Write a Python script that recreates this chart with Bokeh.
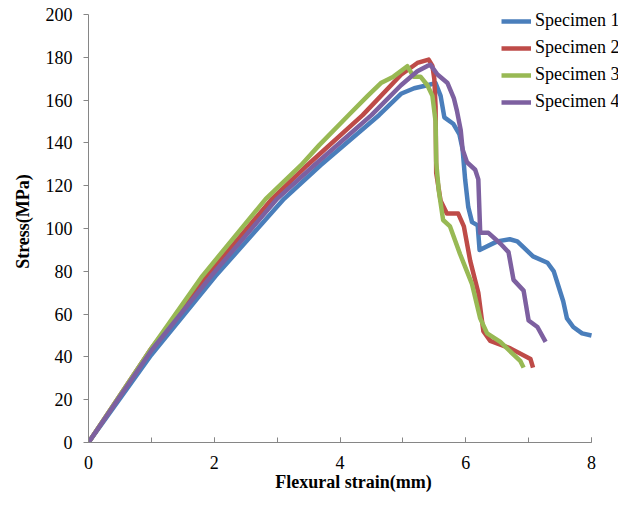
from bokeh.plotting import figure
from bokeh.models import Range1d, SingleIntervalTicker
from bokeh.embed import file_html
from bokeh.resources import INLINE

# Specimen data (strain mm, stress MPa)
x1 = [0, 1.0, 2.02, 3.11, 3.69, 4.62, 4.97, 5.18, 5.39, 5.52, 5.6, 5.66, 5.8, 5.9, 5.95, 5.99, 6.04, 6.1, 6.19, 6.22, 6.5, 6.7, 6.82, 7.07, 7.3, 7.4, 7.55, 7.61, 7.71, 7.85, 8.0]
y1 = [0, 41, 77.8, 113.9, 129.6, 153, 163, 165.6, 167, 168, 162, 152, 149, 144, 137, 123, 110, 103, 101.5, 90, 94, 95, 94, 87, 84, 80, 66, 58, 54, 51, 50]

x2 = [0, 1.0, 1.88, 2.92, 3.48, 4.36, 4.97, 5.23, 5.41, 5.47, 5.5, 5.52, 5.53, 5.6, 5.7, 5.88, 5.97, 6.07, 6.2, 6.28, 6.39, 6.71, 7.03, 7.07]
y2 = [0, 44, 77.8, 113.9, 129.6, 153, 171.9, 177.4, 179, 176, 170, 157, 126, 113, 107, 107, 101, 85, 70, 52, 47.5, 44, 39, 35]

x3 = [0, 1.0, 1.81, 2.82, 3.38, 3.67, 4.17, 4.44, 4.65, 4.85, 5.07, 5.17, 5.28, 5.39, 5.47, 5.52, 5.53, 5.57, 5.64, 5.75, 5.91, 6.1, 6.23, 6.34, 6.55, 6.87, 6.92]
y3 = [0, 44, 77.8, 113.9, 129.6, 139, 154, 162, 168, 171, 175.9, 171, 171, 167, 162, 150, 131, 118, 104, 101, 88, 74, 58, 51, 47, 38, 35]

x4 = [0, 1.0, 1.95, 3.0, 3.59, 4.5, 4.97, 5.23, 5.39, 5.44, 5.55, 5.71, 5.81, 5.86, 5.92, 5.95, 6.02, 6.15, 6.2, 6.23, 6.36, 6.55, 6.68, 6.76, 6.92, 7.0, 7.14, 7.27]
y4 = [0, 43, 77.8, 113.9, 129.6, 153, 167, 173.5, 176, 176.5, 172, 168, 161, 155, 146, 137, 131, 127.5, 123, 98, 98, 93, 89, 76, 71, 57, 54, 47]

labels = ["Specimen 1", "Specimen 2", "Specimen 3", "Specimen 4"]
colors = ["#4A7EBB", "#BE4B48", "#98B954", "#7D60A0"]

FONT = "Liberation Serif"

p = figure(width=618, height=498, output_backend="svg", toolbar_location=None,
           x_range=Range1d(0, 8.4294), y_range=Range1d(0, 206.6))
p.min_border_left = 88
p.min_border_right = 0
p.min_border_top = 0
p.min_border_bottom = 56
p.outline_line_color = None
p.grid.visible = False
p.background_fill_color = "white"

for xs, ys, lab, c in zip([x1, x2, x3, x4], [y1, y2, y3, y4], labels, colors):
    p.line(xs, ys, line_color=c, line_width=4.5, line_join="round", legend_label=lab)

# x axis
xa = p.xaxis[0]
xa.bounds = (0, 8)
xa.ticker = SingleIntervalTicker(interval=2, num_minor_ticks=2)
xa.major_tick_in = 5
xa.major_tick_out = 0
xa.minor_tick_in = 5
xa.minor_tick_out = 0
xa.axis_line_color = "#868686"
xa.major_tick_line_color = "#868686"
xa.minor_tick_line_color = "#868686"
xa.major_label_text_font = FONT
xa.major_label_text_font_size = "18px"
xa.major_label_text_color = "black"
xa.major_label_standoff = 13
xa.axis_label = "Flexural strain(mm)"
xa.axis_label_text_font = FONT
xa.axis_label_text_font_size = "18px"
xa.axis_label_text_font_style = "bold"
xa.axis_label_text_color = "black"
xa.axis_label_standoff = 0

# y axis
ya = p.yaxis[0]
ya.bounds = (0, 200)
ya.ticker = SingleIntervalTicker(interval=20, num_minor_ticks=0)
ya.major_tick_in = 0
ya.major_tick_out = 5
ya.minor_tick_line_color = None
ya.axis_line_color = "#868686"
ya.major_tick_line_color = "#868686"
ya.major_label_text_font = FONT
ya.major_label_text_font_size = "18px"
ya.major_label_text_color = "black"
ya.major_label_standoff = 11
ya.axis_label = "Stress(MPa)"
ya.axis_label_text_font = FONT
ya.axis_label_text_font_size = "18px"
ya.axis_label_text_font_style = "bold"
ya.axis_label_text_color = "black"
ya.axis_label_standoff = 10

lg = p.legend[0]
lg.location = (413, 330)
lg.padding = 0
lg.margin = 0
lg.spacing = 6
lg.border_line_color = None
lg.background_fill_alpha = 0
lg.glyph_width = 30
lg.glyph_height = 20
lg.label_height = 20
lg.label_standoff = 4
lg.label_text_font = FONT
lg.label_text_font_size = "18px"
lg.label_text_color = "black"

open("out.html", "w").write(file_html(p, INLINE))
